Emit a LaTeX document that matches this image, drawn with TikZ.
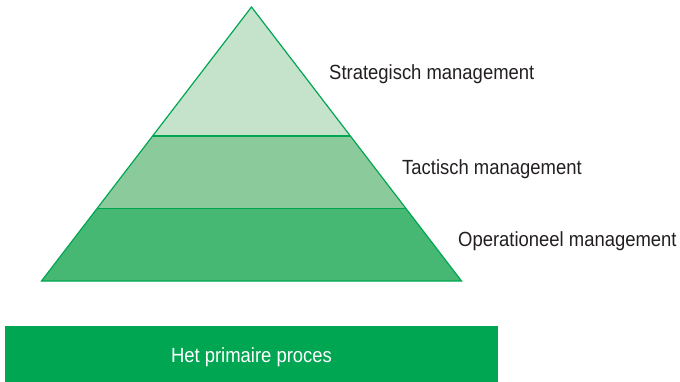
\documentclass[tikz,border=0pt]{standalone}
\usepackage{fontspec}
\setmainfont{Liberation Sans}[FakeStretch=0.9]
\definecolor{lineG}{HTML}{00A651}
\definecolor{topG}{HTML}{C5E3CB}
\definecolor{midG}{HTML}{8BCB9B}
\definecolor{botG}{HTML}{47B874}
\definecolor{barG}{HTML}{00A651}
\definecolor{txt}{HTML}{231F20}
\tikzset{
  layer/.style={draw=lineG, line width=1.2pt, line join=miter},
  lbl/.style={anchor=base west, inner sep=0pt, text=txt, font=\fontsize{20.5}{23}\selectfont},
  bartext/.style={anchor=base, inner sep=0pt, text=white, font=\fontsize{20.5}{23}\selectfont}
}
\begin{document}
\begin{tikzpicture}[x=1pt,y=-1pt]
\useasboundingbox (0,0) rectangle (680,382);
\coordinate (apex) at (251.5,7);
\coordinate (tl) at (152.6,136);
\coordinate (tr) at (350.4,136);
\coordinate (ml) at (97.2,208.3);
\coordinate (mr) at (405.8,208.3);
\coordinate (bl) at (41.5,281);
\coordinate (br) at (461.5,281);
\fill[botG] (ml) -- (mr) -- (br) -- (bl) -- cycle;
\fill[midG] (tl) -- (tr) -- (mr) -- (ml) -- cycle;
\fill[topG] (apex) -- (tr) -- (tl) -- cycle;
\draw[layer] (apex) -- (br) -- (bl) -- cycle;
\draw[layer] (tl) -- (tr);
\draw[layer] (ml) -- (mr);
\node[lbl] (strat) at (329,80) {Strategisch management};
\node[lbl] (tact) at (402,174.5) {Tactisch management};
\node[lbl] (oper) at (458,247) {Operationeel management};
\fill[barG] (5,326) rectangle (498,383);
\node[bartext] (proc) at (251.5,362) {Het primaire proces};
\end{tikzpicture}
\end{document}
